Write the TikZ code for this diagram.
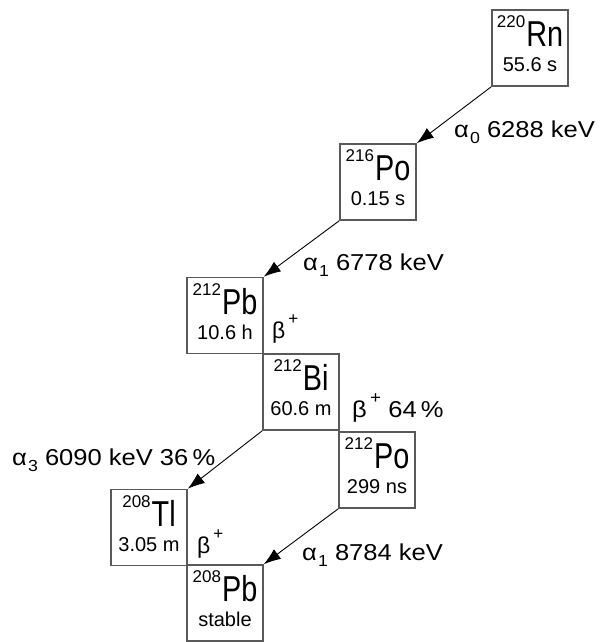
\documentclass[tikz,border=0pt]{standalone}
\usepackage{fontspec}
\setmainfont{Liberation Sans}
\usetikzlibrary{arrows.meta}

% nuclide box text: mass number, symbol, half-life
\newcommand{\iso}[2]{{\fontsize{17}{17}\selectfont\raisebox{19pt}{#1}}\kern1pt\scalebox{0.8}[1]{\fontsize{36}{36}\selectfont #2}}
\newcommand{\nuc}[3]{\vbox{\baselineskip=25pt\halign{\hfil##\hfil\cr\iso{#1}{#2}\cr\fontsize{20}{20}\selectfont #3\cr}\kern8pt}}
\newcommand{\alp}[1]{α\kern1pt\raisebox{-6pt}{\fontsize{16}{16}\selectfont #1}}
\newcommand{\betp}{β\kern3pt\raisebox{14pt}{\fontsize{17}{17}\selectfont +}}
\newcommand{\wide}[1]{\scalebox{1.11}[1]{#1}}

\begin{document}
\begin{tikzpicture}[x=1pt,y=-1pt,
  nuclide/.style={draw=black!65,line width=1.6pt,minimum width=76pt,minimum height=76pt,inner sep=0pt},
  decay/.style={line width=0.9pt,-{Latex[length=17pt,width=12pt]}},
  decaylabel/.style={anchor=base west,inner sep=0pt,font=\fontsize{23}{23}\selectfont}]
\useasboundingbox (0,0) rectangle (603,642);

\node[nuclide] (rn220) at (530,48) {\nuc{220}{Rn}{55.6 s}};
\node[nuclide] (po216) at (378,182) {\nuc{216}{Po}{0.15 s}};
\node[nuclide] (pb212) at (225,315.5) {\nuc{212}{Pb}{10.6 h}};
\node[nuclide] (bi212) at (301,392) {\nuc{212}{Bi}{60.6 m}};
\node[nuclide] (po212) at (377,470) {\nuc{212}{Po}{299 ns}};
\node[nuclide] (tl208) at (149,527.5) {\nuc{208}{Tl}{3.05 m}};
\node[nuclide] (pb208) at (225,603) {\nuc{208}{Pb}{stable}};

\draw[decay] (rn220.south west) -- (po216.north east);
\draw[decay] (po216.south west) -- (pb212.north east);
\draw[decay] (bi212.south west) -- (tl208.north east);
\draw[decay] (po212.south west) -- (pb208.north east);

\node[decaylabel] (l1) at (454,137) {\wide{\alp{0} 6288 keV}};
\node[decaylabel] (l2) at (303,270) {\wide{\alp{1} 6778 keV}};
\node[decaylabel] (l3) at (272,338) {\betp};
\node[decaylabel] (l4) at (352,417) {\wide{\betp\ 64\,\%}};
\node[decaylabel] (l5) at (12,465) {\wide{\alp{3} 6090 keV 36\,\%}};
\node[decaylabel] (l6) at (197,553) {\betp};
\node[decaylabel] (l7) at (302,560) {\wide{\alp{1} 8784 keV}};
\end{tikzpicture}
\end{document}
